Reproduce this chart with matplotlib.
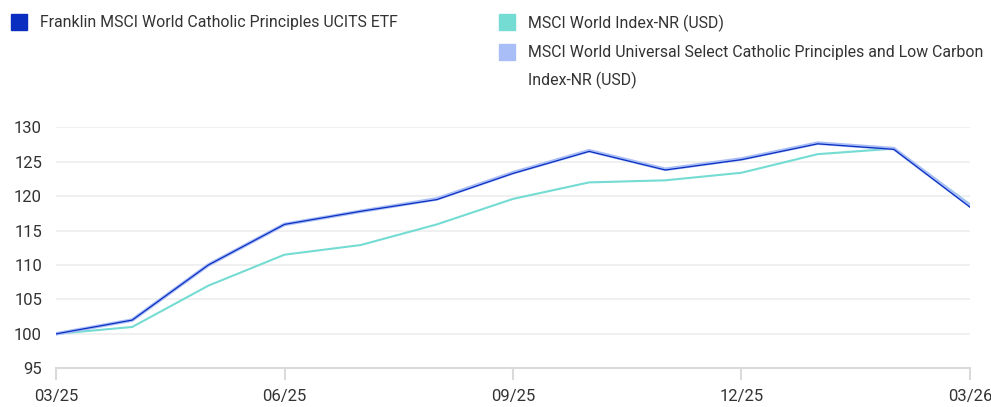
import matplotlib
matplotlib.use("Agg")
import matplotlib.pyplot as plt
from matplotlib.patches import Rectangle

months = ["03/25", "04/25", "05/25", "06/25", "07/25", "08/25", "09/25",
          "10/25", "11/25", "12/25", "01/26", "02/26", "03/26"]
fund = [100.0, 102.0, 110.0, 115.9, 117.8, 119.5, 123.3, 126.5, 123.8, 125.3, 127.6, 126.8, 118.4]
catholic_index = [100.0, 102.0, 110.0, 115.9, 117.8, 119.6, 123.4, 126.6, 123.9, 125.4, 127.7, 126.9, 118.6]
msci_world = [100.0, 101.0, 107.0, 111.5, 112.9, 115.9, 119.6, 122.0, 122.3, 123.4, 126.1, 126.9, 118.8]
x_tick_labels = ["03/25", "06/25", "09/25", "12/25", "03/26"]
y_ticks = [95, 100, 105, 110, 115, 120, 125, 130]

names = ["Franklin MSCI World Catholic Principles UCITS ETF",
         "MSCI World Index-NR (USD)",
         "MSCI World Universal Select Catholic Principles and Low Carbon\nIndex-NR (USD)"]
c_fund = "#0a2fc0"
c_world = "#74dcd2"
c_cath = "#a9bdf7"

plt.rcParams['font.family'] = ["Roboto", "DejaVu Sans"]
tick_size, leg_size = 12, 11.45

W, H = 991, 407
fig = plt.figure(figsize=(W/100, H/100), dpi=100)
ax = fig.add_axes([56/W, 1-368.3/H, (970-56)/W, (368.3-127.3)/H])

xs = list(range(len(months)))
ax.plot(xs, msci_world, color=c_world, lw=1.5, zorder=3)
ax.plot(xs, catholic_index, color=c_cath, lw=2.6, zorder=4)
ax.plot(xs, fund, color=c_fund, lw=0.9, zorder=5)

ax.set_xlim(0, len(months)-1)
ax.set_ylim(95, 130)
tick_pos = [months.index(m) for m in x_tick_labels]
ax.set_xticks(tick_pos)
ax.set_xticklabels(x_tick_labels)
ax.set_yticks(y_ticks)
for y in y_ticks[1:]:
    ax.axhline(y, color="#f0f0f0", lw=1.4, zorder=1)
for s in ["top", "right", "left"]:
    ax.spines[s].set_visible(False)
ax.spines["bottom"].set_color("#dadada")
ax.spines["bottom"].set_linewidth(1.5)
ax.tick_params(axis="x", length=8.6, width=1.5, color="#dadada", pad=6,
               labelsize=tick_size, labelcolor="#333333")
ax.tick_params(axis="y", length=0, pad=10, labelsize=tick_size, labelcolor="#333333")

# legend
def legend_item(x_sq, y_top, color, text):
    fig.patches.append(Rectangle((x_sq/W, 1-(y_top+16)/H), 16/W, 16/H,
                                 transform=fig.transFigure, color=color, zorder=10))
    fig.text((x_sq+29)/W, 1-(y_top+1)/H, text, ha="left", va="top",
             fontsize=leg_size, color="#333333", linespacing=1.9)

legend_item(11, 14, c_fund, names[0])
legend_item(499, 14, c_world, names[1])
legend_item(499, 44, c_cath, names[2])

fig.savefig("out.png", dpi=100)
